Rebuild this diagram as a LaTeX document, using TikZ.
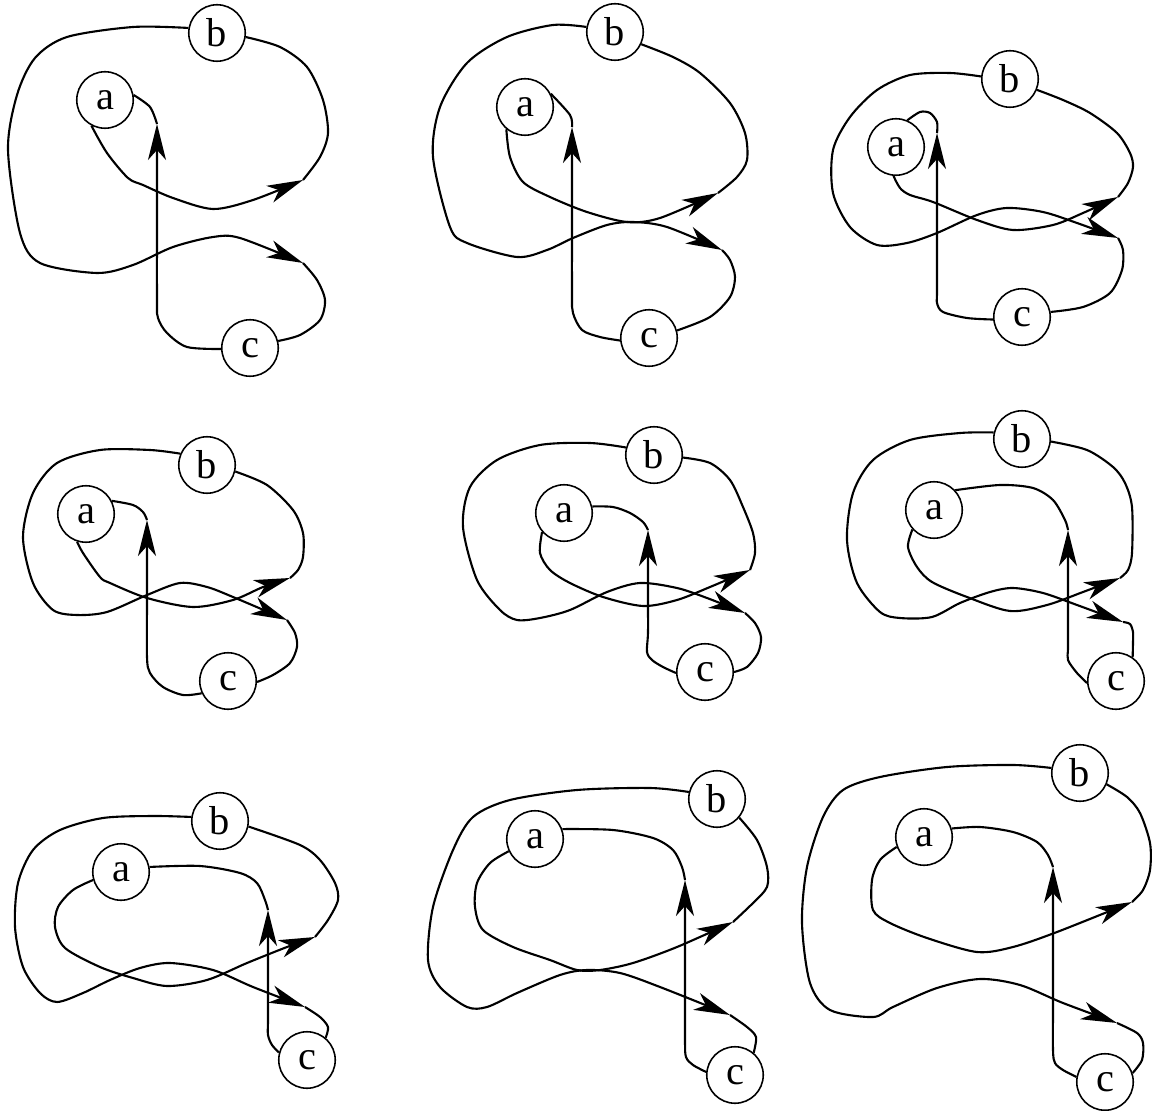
\documentclass[tikz,border=0pt]{standalone}
\usepackage{fontspec}
\setmainfont{Liberation Serif}
\usetikzlibrary{arrows.meta}
\begin{document}
\begin{tikzpicture}[x=0.02cm,y=-0.02cm,
  st/.style={circle,draw,minimum size=1.13cm,inner sep=0pt,line width=0.9pt,font=\fontsize{23}{24}\selectfont},
  ln/.style={line width=1.2pt,line join=round},
  ar/.style={ln,-{Stealth[length=7.2mm,width=3.6mm,inset=2mm]}}]
\useasboundingbox (0,0) rectangle (1153,1111);

% ---------- panel 1 ----------
\node[st] (a1) at (105,100) {a};
\node[st] (b1) at (217,33) {b};
\node[st] (c1) at (250,348) {c};
\coordinate (t1) at (157,124);
\coordinate (p1) at (303,180);
\coordinate (q1) at (303,263);
\draw[ar] plot[smooth] coordinates {(c1.182) (187,347) (167,333) (158,318) (157,300) (157,200) (t1)};
\draw[ln] plot[smooth] coordinates {(t1) (150,107) (a1.10)};
\draw[ar] plot[smooth] coordinates {(a1.242) (107,153) (128,178) (143,185) (173,198) (213,209) (253,200) (p1)};
\draw[ln] plot[smooth] coordinates {(p1) (320,157) (328,133) (323,100) (307,67) (280,47) (b1.352)};
\draw[ar] plot[smooth] coordinates {(b1.170) (133,27) (67,37) (35,58) (17,95) (8,150) (20,233) (40,263) (97,273) (133,265) (173,247) (213,237) (240,238) (q1)};
\draw[ln] plot[smooth] coordinates {(q1) (317,280) (325,300) (320,320) (300,335) (c1.14)};

% ---------- panel 2 ----------
\node[st] (a2) at (525,107) {a};
\node[st] (b2) at (615,32) {b};
\node[st] (c2) at (649,338) {c};
\coordinate (t2) at (572,127);
\coordinate (p2) at (718,193);
\coordinate (q2) at (722,250);
\draw[ar] plot[smooth] coordinates {(c2.185) (600,337) (582,330) (573,313) (572,293) (572,200) (t2)};
\draw[ln] plot[smooth] coordinates {(t2) (570,115) (a2.27)};
\draw[ar] plot[smooth] coordinates {(a2.230) (510,157) (523,182) (550,197) (587,212) (627,222) (660,218) (p2)};
\draw[ln] plot[smooth] coordinates {(p2) (737,177) (747,160) (745,133) (730,103) (700,73) (673,57) (b2.335)};
\draw[ar] plot[smooth] coordinates {(b2.170) (553,25) (507,37) (467,63) (440,107) (433,157) (450,227) (467,243) (517,257) (547,250) (573,238) (607,225) (633,222) (667,227) (q2)};
\draw[ln] plot[smooth] coordinates {(q2) (730,260) (735,277) (730,297) (710,317) (c2.15)};

% ---------- panel 3 ----------
\node[st] (a3) at (896,147) {a};
\node[st] (b3) at (1010,79) {b};
\node[st] (c3) at (1022,317) {c};
\coordinate (t3) at (937,133);
\coordinate (p3) at (1118,197);
\coordinate (q3) at (1118,238);
\draw[ar] plot[smooth] coordinates {(c3.185) (967,318) (943,312) (937,303) (937,290) (937,200) (t3)};
\draw[ln] plot[smooth] coordinates {(t3) (937,122) (930,113) (920,112) (a3.67)};
\draw[ar] plot[smooth] coordinates {(a3.265) (900,188) (910,195) (933,202) (977,220) (1013,230) (1053,225) (1083,213) (p3)};
\draw[ln] plot[smooth] coordinates {(p3) (1128,183) (1133,167) (1130,153) (1117,133) (1090,113) (1063,100) (b3.338)};
\draw[ar] plot[smooth] coordinates {(b3.175) (950,73) (910,75) (877,90) (850,117) (833,150) (833,193) (850,227) (877,245) (907,243) (937,233) (977,215) (1007,208) (1043,212) (1077,223) (q3)};
\draw[ln] plot[smooth] coordinates {(q3) (1123,250) (1122,270) (1110,293) (1083,307) (c3.10)};

% ---------- panel 4 ----------
\node[st] (a4) at (86,514) {a};
\node[st] (b4) at (207,465) {b};
\node[st] (c4) at (228,681) {c};
\coordinate (t4) at (147,520);
\coordinate (p4) at (290,578);
\coordinate (q4) at (287,620);
\draw[ar] plot[smooth] coordinates {(c4.205) (183,695) (163,687) (150,673) (147,657) (147,600) (t4)};
\draw[ln] plot[smooth] coordinates {(t4) (143,512) (133,505) (a4.27)};
\draw[ar] plot[smooth] coordinates {(a4.252) (83,553) (100,577) (110,583) (147,598) (193,607) (233,600) (263,587) (p4)};
\draw[ln] plot[smooth] coordinates {(p4) (298,570) (303,557) (303,533) (293,510) (267,485) (b4.347)};
\draw[ar] plot[smooth] coordinates {(b4.157) (150,450) (100,450) (57,463) (33,493) (23,537) (33,583) (53,610) (77,615) (107,612) (147,595) (180,583) (207,587) (233,597) (q4)};
\draw[ln] plot[smooth] coordinates {(q4) (295,633) (297,647) (290,663) (273,675) (c4.358)};

% ---------- panel 5 ----------
\node[st] (a5) at (564,513) {a};
\node[st] (b5) at (654,455) {b};
\node[st] (c5) at (705,672) {c};
\coordinate (t5) at (648,530);
\coordinate (p5) at (750,570);
\coordinate (q5) at (745,613);
\draw[ar] plot[smooth] coordinates {(c5.182) (663,667) (652,660) (647,652) (648,633) (648,600) (t5)};
\draw[ln] plot[smooth] coordinates {(t5) (643,522) (630,513) (613,507) (a5.13)};
\draw[ar] plot[smooth] coordinates {(a5.221) (540,553) (550,570) (570,583) (603,597) (643,606) (677,600) (710,587) (p5)};
\draw[ln] plot[smooth] coordinates {(p5) (755,553) (753,533) (743,507) (730,480) (710,463) (b5.355)};
\draw[ar] plot[smooth] coordinates {(b5.165) (590,443) (540,445) (497,460) (470,487) (463,527) (477,580) (500,610) (517,620) (540,618) (570,610) (607,592) (640,583) (677,588) (707,598) (q5)};
\draw[ln] plot[smooth] coordinates {(q5) (755,623) (761,637) (758,653) (747,667) (c5.0)};

% ---------- panel 6 ----------
\node[st] (a6) at (934,510) {a};
\node[st] (b6) at (1022,439) {b};
\node[st] (c6) at (1116,681) {c};
\coordinate (t6) at (1068,530);
\coordinate (p6) at (1120,578);
\coordinate (q6) at (1123,622);
\draw[ar] plot[smooth] coordinates {(c6.184) (1077,673) (1068,660) (1068,647) (1068,600) (t6)};
\draw[ln] plot[smooth] coordinates {(t6) (1065,520) (1053,500) (1033,488) (1000,485) (a6.43)};
\draw[ar] plot[smooth] coordinates {(a6.222) (908,547) (917,567) (932,582) (967,597) (1010,611) (1047,605) (1083,592) (p6)};
\draw[ln] plot[smooth] coordinates {(p6) (1128,570) (1132,553) (1132,507) (1125,483) (1113,467) (1087,450) (b6.355)};
\draw[ar] plot[smooth] coordinates {(b6.167) (960,433) (910,440) (873,460) (853,493) (847,540) (857,583) (880,612) (900,618) (932,617) (960,603) (990,592) (1013,588) (1043,593) (1077,605) (q6)};
\draw[ln] plot[smooth] coordinates {(q6) (1130,624) (1133,632) (1133,642) (c6.55)};

% ---------- panel 7 ----------
\node[st] (a7) at (121,872) {a};
\node[st] (b7) at (220,821) {b};
\node[st] (c7) at (307,1060) {c};
\coordinate (t7) at (268,910);
\coordinate (p7) at (315,937);
\coordinate (q7) at (305,1007);
\draw[ar] plot[smooth] coordinates {(c7.165) (272,1045) (268,1035) (268,1020) (268,980) (t7)};
\draw[ln] plot[smooth] coordinates {(t7) (265,900) (257,883) (240,873) (200,866) (a7.10)};
\draw[ar] plot[smooth] coordinates {(a7.196) (73,890) (58,907) (55,927) (65,948) (100,967) (133,978) (167,986) (207,980) (247,963) (287,947) (p7)};
\draw[ln] plot[smooth] coordinates {(p7) (328,920) (338,900) (335,883) (320,860) (300,845) (b7.349)};
\draw[ar] plot[smooth] coordinates {(b7.172) (153,816) (103,818) (60,830) (33,850) (18,883) (15,927) (23,967) (40,993) (57,1002) (83,993) (110,980) (140,968) (170,963) (213,970) (253,987) (q7)};
\draw[ln] plot[smooth] coordinates {(q7) (320,1017) (328,1027) (c7.50)};

% ---------- panel 8 ----------
\node[st] (a8) at (535,839) {a};
\node[st] (b8) at (717,799) {b};
\node[st] (c8) at (735,1075) {c};
\coordinate (t8) at (685,880);
\coordinate (p8) at (733,922);
\coordinate (q8) at (730,1015);
\draw[ar] plot[smooth] coordinates {(c8.174) (693,1065) (686,1057) (685,1040) (685,980) (t8)};
\draw[ln] plot[smooth] coordinates {(t8) (682,867) (673,850) (653,838) (613,830) (a8.20)};
\draw[ar] plot[smooth] coordinates {(a8.205) (490,863) (477,883) (475,907) (483,930) (513,947) (550,960) (577,970) (600,970) (633,963) (677,947) (p8)};
\draw[ln] plot[smooth] coordinates {(p8) (753,903) (767,887) (767,867) (757,840) (b8.320)};
\draw[ar] plot[smooth] coordinates {(b8.166) (650,788) (577,790) (510,800) (473,817) (453,850) (433,907) (428,960) (440,987) (467,1007) (487,1007) (517,993) (560,975) (587,970) (620,973) (660,987) (q8)};
\draw[ln] plot[smooth] coordinates {(q8) (747,1027) (756,1037) (c8.50)};

% ---------- panel 9 ----------
\node[st] (a9) at (924,837) {a};
\node[st] (b9) at (1080,773) {b};
\node[st] (c9) at (1105,1082) {c};
\coordinate (t9) at (1053,867);
\coordinate (p9) at (1132,902);
\coordinate (q9) at (1117,1023);
\draw[ar] plot[smooth] coordinates {(c9.170) (1063,1070) (1055,1063) (1053,1050) (1053,1000) (t9)};
\draw[ln] plot[smooth] coordinates {(t9) (1048,855) (1037,842) (1013,832) (980,827) (a9.17)};
\draw[ar] plot[smooth] coordinates {(a9.200) (880,860) (872,880) (873,910) (890,923) (927,938) (977,952) (1013,947) (1057,932) (p9)};
\draw[ln] plot[smooth] coordinates {(p9) (1143,890) (1150,870) (1150,843) (1140,813) (1127,797) (b9.337)};
\draw[ar] plot[smooth] coordinates {(b9.170) (1013,765) (947,767) (880,777) (843,790) (823,817) (807,867) (802,923) (810,983) (830,1010) (873,1017) (893,1007) (937,988) (980,979) (1020,985) (1063,1003) (q9)};
\draw[ln] plot[smooth] coordinates {(q9) (1137,1033) (1143,1043) (1142,1060) (c9.18)};
\end{tikzpicture}
\end{document}
